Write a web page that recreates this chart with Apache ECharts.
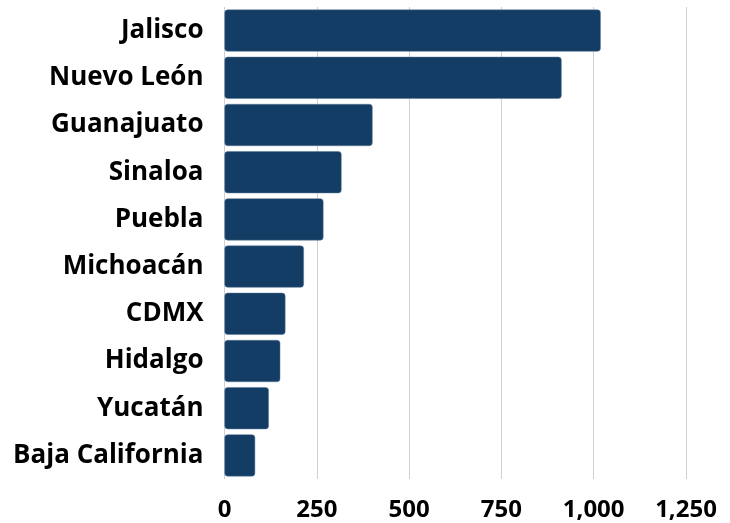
<!DOCTYPE html>
<html>
<head>
<meta charset="utf-8">
<script src="https://cdn.jsdelivr.net/npm/echarts@6/dist/echarts.min.js"></script>
<style>html,body{margin:0;padding:0;background:#fff}#c{width:730px;height:523px}</style>
</head>
<body>
<div id="c"></div>
<script>
const categories = ["Jalisco", "Nuevo León", "Guanajuato", "Sinaloa", "Puebla", "Michoacán", "CDMX", "Hidalgo", "Yucatán", "Baja California"];
const values = [1019, 913, 401, 317, 268, 215, 165, 151, 120, 83];
const xTicks = [0, 250, 500, 750, 1000, 1250];

const chart = echarts.init(document.getElementById('c'));
chart.setOption({
  animation: false,
  grid: { left: 224.5, right: 44, top: 7, bottom: 44, containLabel: false },
  xAxis: {
    type: 'value', min: xTicks[0], max: xTicks[xTicks.length - 1], interval: xTicks[1] - xTicks[0],
    axisLine: { show: false }, axisTick: { show: false },
    splitLine: { show: true, lineStyle: { color: '#d0d0d0', width: 1 } },
    axisLabel: {
      margin: 19, color: '#000', fontFamily: 'Open Sans', fontWeight: 'bold', fontSize: 24,
      formatter: v => v.toLocaleString('en-US')
    }
  },
  yAxis: {
    type: 'category', data: categories, inverse: true,
    axisLine: { show: false }, axisTick: { show: false },
    axisLabel: { margin: 21, color: '#000', fontFamily: 'Open Sans', fontWeight: 'bold', fontSize: 26 }
  },
  series: [{
    type: 'bar', data: values, barWidth: 42,
    itemStyle: { color: '#133d64', borderRadius: 3, borderColor: '#5a7896', borderWidth: 0.5 }
  }]
});
</script>
</body>
</html>
